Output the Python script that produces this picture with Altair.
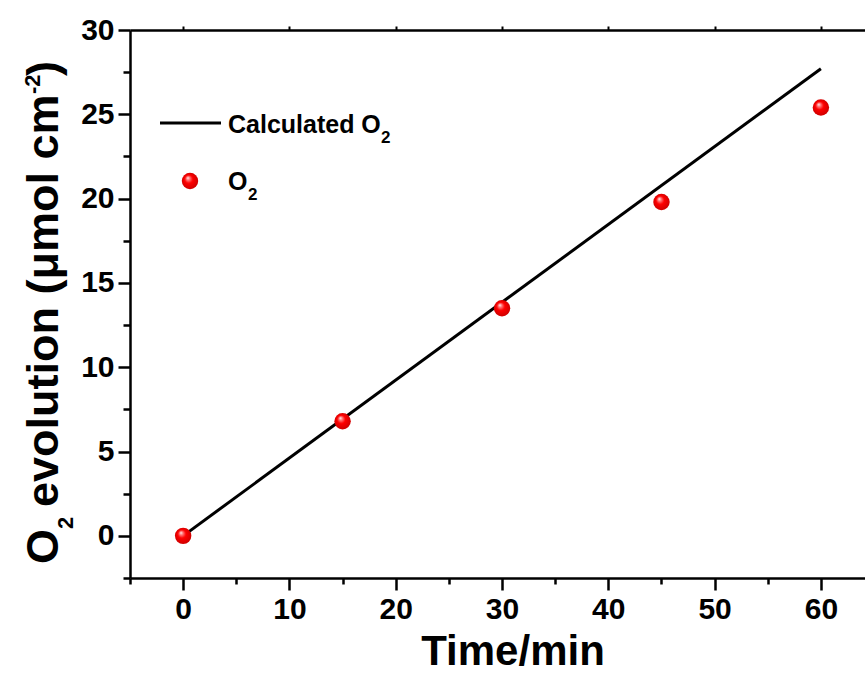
import altair as alt
import pandas as pd

# ---------------- data ----------------
time_min = [0, 15, 30, 45, 60]
o2_measured = [0.0, 6.8, 13.5, 19.8, 25.4]
calc_time = [0, 60]
calc_o2 = [0.0, 27.7]

x_tick_values = [-5, 0, 5, 10, 15, 20, 25, 30, 35, 40, 45, 50, 55, 60]
x_top_ticks = [0, 10, 20, 30, 40, 50, 60]
y_tick_values = [-2.5, 0, 2.5, 5, 7.5, 10, 12.5, 15, 17.5, 20, 22.5, 25, 27.5, 30]

x_title = "Time/min"
legend_line_label = ["Calculated O", "2"]
legend_point_label = ["O", "2"]
y_title_parts = ["O", "2", "evolution (\u03bcmol cm", "-2", ")"]

# ---------------- layout ----------------
W, H = 735, 548
LEFT, TOP = 130, 30
FONT = "Liberation Sans"

meas = pd.DataFrame({"t": time_min, "o2": o2_measured})
calc = pd.DataFrame({"t": calc_time, "o2": calc_o2})

xscale = alt.Scale(domain=[-5, 64.15], nice=False, zero=False)
yscale = alt.Scale(domain=[-2.5, 30], nice=False, zero=False)

x_axis = alt.Axis(
    values=x_tick_values,
    labelExpr="datum.value % 10 === 0 ? datum.label : ''",
    tickSize={"condition": {"test": "datum.value % 10 === 0", "value": 12}, "value": 6},
    tickWidth=2.5, tickColor="black",
    domainWidth=2.5, domainColor="black",
    labelFont=FONT, labelFontWeight="bold", labelFontSize=30, labelColor="black",
    labelPadding=4, labelFlush=False, labelOverlap=False,
    grid=False,
    title=x_title, titleFont=FONT, titleFontWeight="bold", titleFontSize=42,
    titleColor="black", titleX=382.5, titleY=86, titleBaseline="alphabetic",
    titleAlign="center", titleAnchor="start",
)
y_axis = alt.Axis(
    values=y_tick_values,
    labelExpr="datum.value % 5 === 0 ? datum.label : ''",
    tickSize={"condition": {"test": "datum.value % 5 === 0", "value": 12}, "value": 7},
    tickWidth=2.5, tickColor="black",
    domainWidth=2.5, domainColor="black",
    labelFont=FONT, labelFontWeight="bold", labelFontSize=30, labelColor="black",
    labelPadding=4, labelFlush=False, labelOverlap=False,
    grid=False, title=None,
)
top_axis = alt.Axis(
    orient="top", values=x_top_ticks, labels=False, tickSize=4,
    tickWidth=2, tickColor="black", domainWidth=2.5, domainColor="black",
    grid=False, title=None,
)

line = alt.Chart(calc).mark_line(color="black", strokeWidth=3).encode(
    x=alt.X("t:Q", scale=xscale, axis=x_axis),
    y=alt.Y("o2:Q", scale=yscale, axis=y_axis),
)

ball = alt.RadialGradient(
    gradient="radial",
    x1=0.36, y1=0.3, r1=0.0,
    x2=0.5, y2=0.5, r2=0.55,
    stops=[
        alt.GradientStop(offset=0.0, color="#ffffff"),
        alt.GradientStop(offset=0.18, color="#ff8080"),
        alt.GradientStop(offset=0.45, color="#ff0000"),
        alt.GradientStop(offset=1.0, color="#c80000"),
    ],
)

points = alt.Chart(meas).mark_circle(size=270, fill=ball, opacity=1).encode(
    x=alt.X("t:Q", scale=xscale, axis=top_axis),
    y=alt.Y("o2:Q", scale=yscale),
)


def rel(px, py):
    return px - LEFT, py - TOP


def text_piece(txt, px, py, size, angle=0):
    x, y = rel(px, py)
    kw = dict(font=FONT, fontWeight="bold", fontSize=size, color="black",
              align="left", baseline="alphabetic")
    if angle:
        kw["angle"] = angle
    return alt.Chart(pd.DataFrame({"label": [txt]})).mark_text(**kw).encode(
        text="label:N", x=alt.value(x), y=alt.value(y)
    )


# legend
lx1, ly = rel(160, 123)
lx2, _ = rel(221, 123)
leg_rule = alt.Chart(pd.DataFrame({"k": [0]})).mark_rule(color="black", strokeWidth=3).encode(
    x=alt.value(lx1), x2=alt.value(lx2), y=alt.value(ly)
)
px_, py_ = rel(190, 181)
leg_point = alt.Chart(pd.DataFrame({"k": [0]})).mark_circle(size=270, fill=ball, opacity=1).encode(
    x=alt.value(px_), y=alt.value(py_)
)
leg_texts = [
    text_piece(legend_line_label[0], 228, 133, 25),
    text_piece(legend_line_label[1], 381, 143, 17),
    text_piece(legend_point_label[0], 228, 190, 25),
    text_piece(legend_point_label[1], 248, 200, 17),
]

# rotated y title built from pieces (subscript / superscript)
y_title = [
    text_piece(y_title_parts[0], 58, 564, 45, 270),
    text_piece(y_title_parts[1], 73, 529, 22, 270),
    text_piece(y_title_parts[2], 58, 507, 45, 270),
    text_piece(y_title_parts[3], 40, 94, 22, 270),
    text_piece(y_title_parts[4], 58, 76, 45, 270),
]

chart = alt.layer(line, points, leg_rule, leg_point, *leg_texts, *y_title).resolve_axis(
    x="independent"
).properties(
    width=W, height=H,
    autosize=alt.AutoSizeParams(type="none"),
    padding={"left": LEFT, "top": TOP, "right": 0, "bottom": 673 - TOP - H},
    background="white",
).configure_view(strokeWidth=0)

chart.save("out.html", embed_options={"renderer": "svg", "actions": False})
